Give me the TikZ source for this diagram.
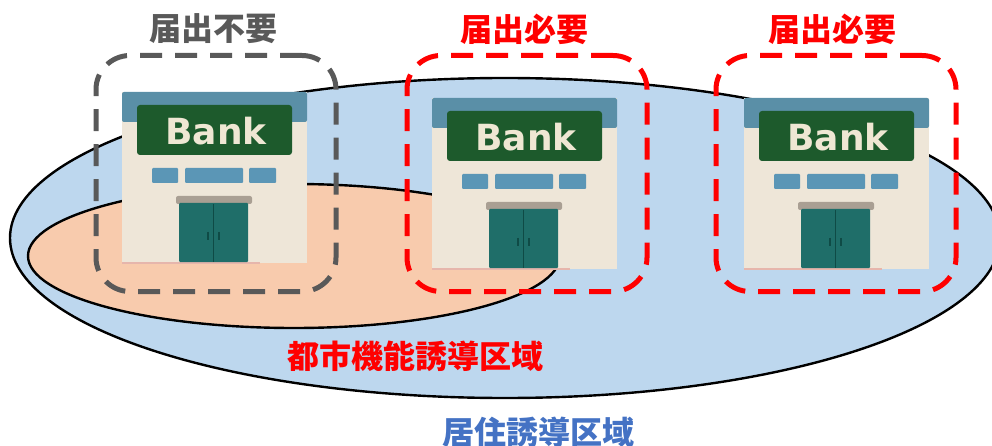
\documentclass[tikz,border=0pt]{standalone}
\usepackage{fontspec}
\newfontfamily\jpfont{Noto Sans CJK JP}
\newfontfamily\signfont{DejaVu Sans}
\usetikzlibrary{shapes.geometric}
\definecolor{zoneblue}{HTML}{BDD7EE}
\definecolor{zoneorange}{HTML}{F8CBAD}
\definecolor{labelblue}{HTML}{4472C4}
\definecolor{labelgray}{HTML}{595959}
\definecolor{labelred}{HTML}{FF0000}
\definecolor{wallcream}{HTML}{EEE6D8}
\definecolor{roofblue}{HTML}{5A8FA7}
\definecolor{signgreen}{HTML}{1D5A2C}
\definecolor{signtext}{HTML}{EFE7D3}
\definecolor{winblue}{HTML}{5B96B6}
\definecolor{awninggray}{HTML}{A99F93}
\definecolor{doorteal}{HTML}{1F6E69}
\definecolor{doordark}{HTML}{0F4B46}
\definecolor{groundpink}{HTML}{E6B6AC}
\tikzset{
  zone/.style={ellipse, draw=black, line width=2.4pt, inner sep=0pt},
  dashbox/.style={rectangle, rounded corners=34pt, line width=5pt,
    dash pattern=on 22pt off 13pt, inner sep=0pt,
    minimum width=240pt, minimum height=236pt},
  jplabel/.style={font=\jpfont\bfseries\fontsize{32}{34}\selectfont, inner sep=0pt},
  bank/.pic={
    % building body and ground strip
    \fill[wallcream] (0,0) rectangle (185,171);
    \fill[groundpink] (0,169.5) rectangle (138,172);
    % roof band
    \fill[roofblue, rounded corners=2pt] (0,0) rectangle (185,30);
    % sign board with name
    \fill[signgreen, rounded corners=3pt] (15,13) rectangle (170,63);
    \node[font=\signfont\bfseries\fontsize{36}{36}\selectfont, text=signtext,
      inner sep=0pt] (-name) at (94,39) {Bank};
    % windows
    \fill[winblue, rounded corners=1pt] (30,76) rectangle (56,91);
    \fill[winblue, rounded corners=1pt] (63,76) rectangle (121,91);
    \fill[winblue, rounded corners=1pt] (127,76) rectangle (154,91);
    % awning and door
    \fill[awninggray, rounded corners=2pt] (54,104) rectangle (130,112);
    \fill[doorteal, rounded corners=1pt] (57,111) rectangle (126,170);
    \draw[doordark, line width=1.6pt] (91.5,112) -- (91.5,170);
    \draw[doordark, line width=2pt] (86,140) -- (86,148);
    \draw[doordark, line width=2pt] (97,140) -- (97,148);
  }
}
\begin{document}
\begin{tikzpicture}[x=1pt, y=-1pt]
\useasboundingbox (0,0) rectangle (992,446);

% residential and urban-function zones
\node[zone, fill=zoneblue, minimum width=990pt, minimum height=320pt] (resid) at (505,238) {};
\node[zone, fill=zoneorange, minimum width=532pt, minimum height=144pt] (urban) at (294,256) {};

% bank buildings
\pic (bankA) at (122,92) {bank};
\pic (bankB) at (432,98) {bank};
\pic (bankC) at (744,98) {bank};

% dashed frames
\node[dashbox, draw=labelgray] (boxA) at (216,173.5) {};
\node[dashbox, draw=labelred] (boxB) at (527,173.5) {};
\node[dashbox, draw=labelred] (boxC) at (836,173.5) {};

% labels
\node[jplabel, text=labelgray] (noticeA) at (213,29) {届出不要};
\node[jplabel, text=labelred] (noticeB) at (524,29) {届出必要};
\node[jplabel, text=labelred] (noticeC) at (832,29) {届出必要};
\node[jplabel, text=labelred] (urbanlabel) at (415,356) {都市機能誘導区域};
\node[jplabel, text=labelblue] (residlabel) at (538,432) {居住誘導区域};
\end{tikzpicture}
\end{document}
